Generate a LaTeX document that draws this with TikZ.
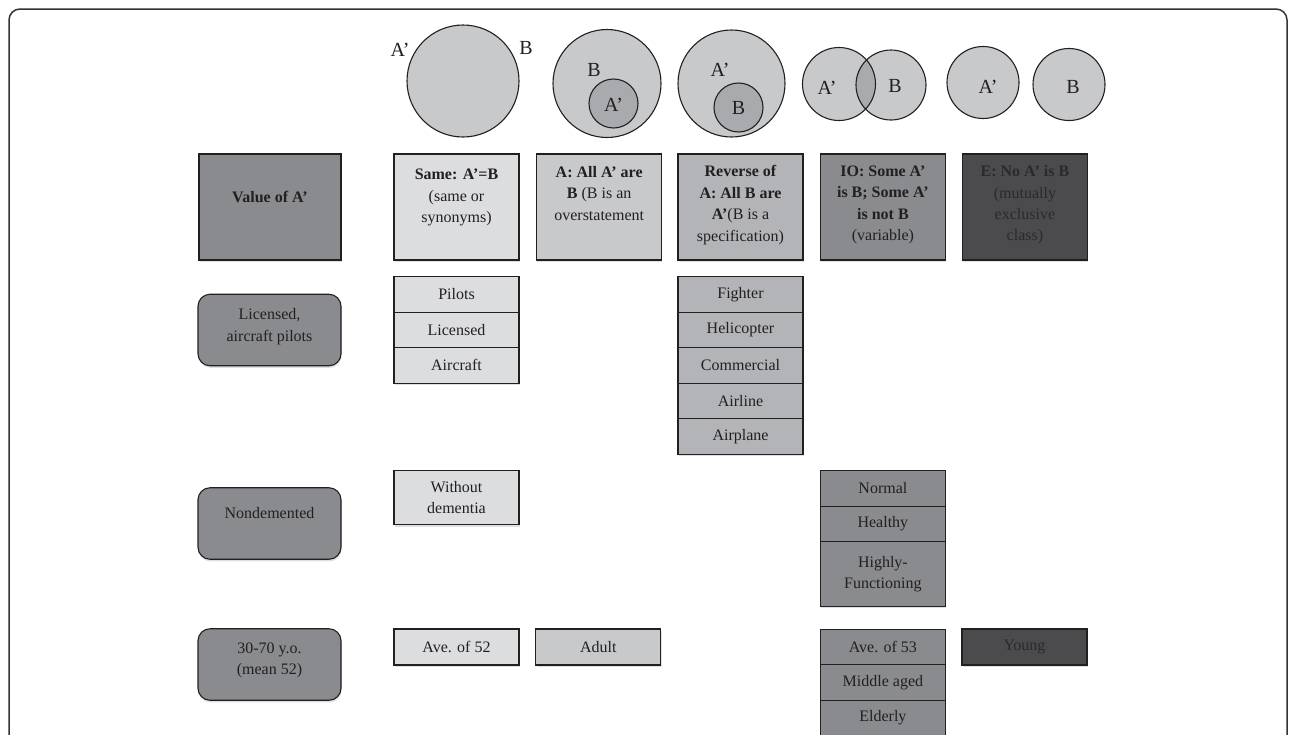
\documentclass[tikz,border=0pt]{standalone}
\usepackage{fontspec}
\setmainfont{Liberation Serif}
\usetikzlibrary{shadows}
\definecolor{ink}{HTML}{231F20}
\definecolor{frame}{HTML}{333333}
\definecolor{cdark}{HTML}{8A8B8F}
\definecolor{clight}{HTML}{DCDDDF}
\definecolor{cmid}{HTML}{C8C9CB}
\definecolor{crev}{HTML}{B3B4B8}
\definecolor{cblack}{HTML}{4B4B4D}
\definecolor{cinner}{HTML}{A9AAAE}
\definecolor{etext}{HTML}{2A2A2B}
\tikzset{
  txt/.style={font=\fontsize{16}{21.4}\selectfont, text=ink, align=center, inner sep=0pt},
  shade/.style={drop shadow={shadow xshift=0.6pt, shadow yshift=-2.2pt, fill=black, opacity=0.12}},
  cell/.style={draw=ink, line width=1.1pt, minimum width=125pt, minimum height=35.5pt, inner sep=0pt, txt},
  headbox/.style={draw=ink, line width=1.1pt, minimum width=125pt, minimum height=106pt, inner sep=0pt, shade},
  roundbox/.style={draw=ink, line width=1.1pt, rounded corners=12pt, minimum width=143pt, minimum height=71.5pt, inner sep=0pt, fill=cdark, shade},
  venn/.style={circle, draw=ink, line width=1.1pt, inner sep=0pt},
  vlab/.style={font=\fontsize{20}{24}\selectfont, text=ink, inner sep=0pt},
}
\begin{document}
\begin{tikzpicture}[x=1pt,y=-1pt]
\useasboundingbox (0,0) rectangle (1290,734);
\clip (0,0) rectangle (1290,734);
% outer frame
\draw[frame, line width=1.5pt, rounded corners=11pt] (9,780) -- (9,9) -- (1287,9) -- (1287,780);

% ---- Venn diagrams ----
\node[venn, fill=cmid, minimum size=112pt] (c1) at (463,81) {};
\node[vlab] (c1a) at (400,50) {A'};
\node[vlab] (c1b) at (526,48) {B};

\node[venn, fill=cmid, minimum size=108pt] (c2) at (607,83.5) {};
\node[venn, fill=cinner, minimum size=49pt] (c2i) at (613.5,103.5) {};
\node[vlab] (c2b) at (594,70) {B};
\node[vlab] (c2a) at (613.5,104.5) {A'};

\node[venn, fill=cmid, minimum size=107pt] (c3) at (731.5,83.5) {};
\node[venn, fill=cinner, minimum size=49pt] (c3i) at (738.5,107.5) {};
\node[vlab] (c3a) at (720,70) {A'};
\node[vlab] (c3b) at (738.5,108) {B};

\fill[cmid] (839,84) circle (36.5pt);
\fill[cmid] (891,85) circle (35pt);
\begin{scope}
  \clip (839,84) circle (36.5pt);
  \fill[cinner] (891,85) circle (35pt);
\end{scope}
\node[venn, minimum size=73pt] (c4a) at (839,84) {};
\node[venn, minimum size=70pt] (c4b) at (891,85) {};
\node[vlab] (c4al) at (827,88) {A'};
\node[vlab] (c4bl) at (895,86) {B};

\node[venn, fill=cmid, minimum size=72pt] (c5a) at (983,82.5) {};
\node[venn, fill=cmid, minimum size=72pt] (c5b) at (1069,84.5) {};
\node[vlab] (c5al) at (988,86.5) {A'};
\node[vlab] (c5bl) at (1073,87) {B};

% ---- header row ----
\node[headbox, fill=cdark, minimum width=142pt] (hv) at (270,207) {};
\node[txt] (hvt) at (270,197) {\textbf{Value of A'}};
\node[headbox, fill=clight] (hs) at (456.5,207) {};
\node[txt] (hst) at (456.5,197.5) {\textbf{Same: A'=B}\\(same or\\synonyms)};
\node[headbox, fill=cmid] (ha) at (599.2,207) {};
\node[txt] (hat) at (599.2,193.3) {\textbf{A: All A' are}\\\textbf{B} (B is an\\overstatement};
\node[headbox, fill=crev] (hr) at (740.5,207) {};
\node[txt] (hrt) at (740.5,205) {\textbf{Reverse of}\\\textbf{A: All B are}\\\textbf{A'}(B is a\\specification)};
\node[headbox, fill=cdark] (hi) at (882.9,207) {};
\node[txt] (hit) at (882.9,205) {\textbf{IO: Some A'}\\\textbf{is B; Some A'}\\\textbf{is not B}\\(variable)};
\node[headbox, fill=cblack] (he) at (1024.9,207) {};
\node[txt, text=etext] (het) at (1024.9,205) {\textbf{E: No A' is B}\\(mutually\\exclusive\\class)};

% ---- row 1: Licensed, aircraft pilots ----
\node[roundbox] (r1) at (269.5,330) {};
\node[txt] (r1t) at (269.5,326.7) {Licensed,\\aircraft pilots};
\node[cell, fill=clight] (p1) at (456.5,294.4) {Pilots};
\node[cell, fill=clight] (p2) at (456.5,329.9) {Licensed};
\node[cell, fill=clight, shade] (p3) at (456.5,365.4) {Aircraft};
\node[cell, fill=crev] (f1) at (740.5,294.4) {Fighter};
\node[cell, fill=crev] (f2) at (740.5,329.9) {Helicopter};
\node[cell, fill=crev] (f3) at (740.5,365.4) {Commercial};
\node[cell, fill=crev] (f4) at (740.5,400.9) {Airline};
\node[cell, fill=crev, shade] (f5) at (740.5,436.4) {Airplane};

% ---- row 2: Nondemented ----
\node[roundbox] (r2) at (269.5,523.5) {};
\node[txt] (r2t) at (269.5,512.7) {Nondemented};
\node[cell, fill=clight, minimum height=53.6pt, shade] (w1) at (456.5,497.5) {Without\\dementia};
\node[cell, fill=cdark] (n1) at (882.9,488.5) {Normal};
\node[cell, fill=cdark] (n2) at (882.9,524) {Healthy};
\node[cell, fill=cdark, minimum height=64.3pt, shade] (n3) at (882.9,573.9) {Highly-\\Functioning};

% ---- row 3: 30-70 y.o. ----
\node[roundbox] (r3) at (269.5,664.5) {};
\node[txt] (r3t) at (269.5,660.5) {30-70 y.o.\\(mean 52)};
\node[cell, fill=clight, minimum height=36pt, shade] (s1) at (456.5,647) {Ave. of 52};
\node[cell, fill=cmid, minimum height=36pt, shade] (s2) at (598.4,647) {Adult};
\node[cell, fill=cdark] (m1) at (882.9,647) {Ave. of 53};
\node[cell, fill=cdark] (m2) at (882.9,682.5) {Middle aged};
\node[cell, fill=cdark] (m3) at (882.9,718) {Elderly};
\node[cell, fill=cblack, text=etext, minimum height=36pt, shade] (y1) at (1024.5,647) {Young};
\end{tikzpicture}
\end{document}
